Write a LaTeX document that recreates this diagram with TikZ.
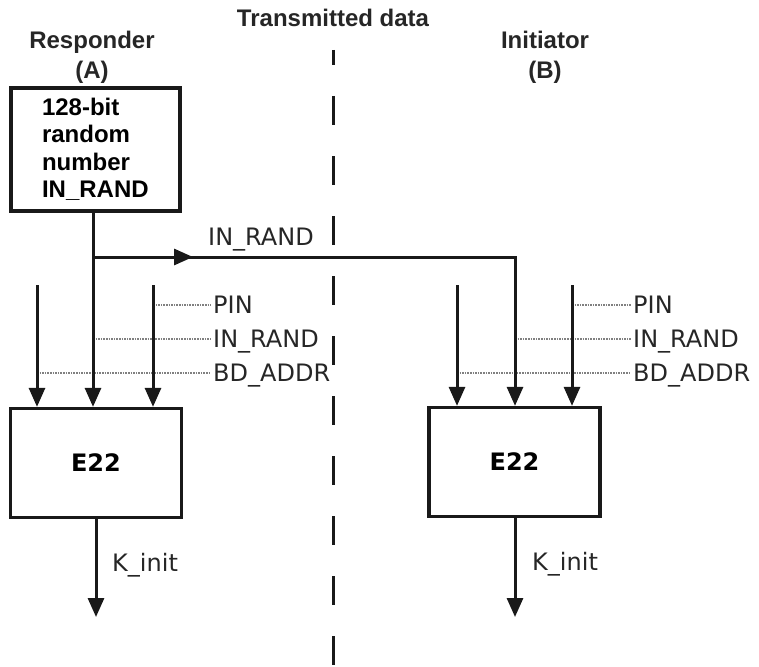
\documentclass[tikz,border=0pt]{standalone}
\usepackage{fontspec}
\setmainfont{Liberation Sans}
\newfontfamily\labelfont{DejaVu Sans}
\usetikzlibrary{arrows.meta,positioning}
\tikzset{
  titlelabel/.style={font=\bfseries\fontsize{24}{30}\selectfont,align=center,text=black!85},
  sourcebox/.style={draw=black!90,line width=3.3pt,minimum width=169pt,minimum height=123pt,
    text width=107pt,inner xsep=31pt,align=left,font=\bfseries\fontsize{24}{27.5}\selectfont},
  cipherbox/.style={draw=black!90,line width=3.3pt,minimum width=171pt,minimum height=109pt,
    font=\labelfont\bfseries\fontsize{24}{28}\selectfont},
  siglabel/.style={font=\labelfont\fontsize{24}{28}\selectfont,anchor=west,inner sep=2pt,
    text height=17.5pt,text depth=0pt,text=black!85},
  flowline/.style={line width=3pt,draw=black!90},
  flowarrow/.style={flowline,-{Triangle[length=19pt,width=16pt]}},
  hintline/.style={line width=1.6pt,draw=black!50,dash pattern=on 1.5pt off 1.1pt},
  borderline/.style={line width=3pt,draw=black!90,dash pattern=on 29pt off 31pt,dash phase=14pt}
}

\begin{document}
\begin{tikzpicture}[x=1pt,y=-1pt]
  \useasboundingbox (0,0) rectangle (759,666);
  % headings
  \node[titlelabel] (resp) at (92,57) {Responder\\(A)};
  \node[titlelabel] (trans) at (333,18) {Transmitted data};
  \node[titlelabel] (init) at (545,57) {Initiator\\(B)};
  \coordinate (bordertop) at (333,50);
  \coordinate (borderbot) at (333,666);
  \draw[borderline] (bordertop) -- (borderbot);

  % responder side
  \node[sourcebox] (randbox) at (95.5,149.5) {128-bit\\random\\number\\IN\_RAND};
  \node[cipherbox] (e22A) at (96,463) {E22};
  \coordinate (split) at (93,257);
  \coordinate (bend) at (515,257);
  \coordinate (midtip) at (193,257);
  \coordinate (inA1) at (37,285);
  \coordinate (inA3) at (153,285);
  \coordinate (outA) at (96,617);
  \node[siglabel] (sent) at (206,237) {IN\_RAND};
  \node[siglabel] (pinA) at (211,305) {PIN};
  \node[siglabel] (randA) at (211,339) {IN\_RAND};
  \node[siglabel] (addrA) at (211,373) {BD\_ADDR};
  \draw[hintline] (inA3 |- pinA) -- (pinA.west);
  \draw[hintline] (split |- randA) -- (randA.west);
  \draw[hintline] (inA1 |- addrA) -- (addrA.west);
  \draw[flowarrow] (inA1) -- (e22A.north -| inA1);
  \draw[flowarrow] (inA3) -- (e22A.north -| inA3);
  \draw[flowarrow] (randbox.south -| split) -- (e22A.north -| split);
  \draw[flowarrow] (split) -- (midtip);
  \draw[flowarrow] (e22A.south) -- (outA);
  \node[siglabel] (keyA) at (110,563) {K\_init};

  % initiator side
  \node[cipherbox] (e22B) at (514.5,462) {E22};
  \coordinate (inB1) at (457,285);
  \coordinate (inB3) at (572,285);
  \coordinate (outB) at (515,617);
  \node[siglabel] (pinB) at (631,305) {PIN};
  \node[siglabel] (randB) at (631,339) {IN\_RAND};
  \node[siglabel] (addrB) at (631,373) {BD\_ADDR};
  \draw[hintline] (inB3 |- pinB) -- (pinB.west);
  \draw[hintline] (bend |- randB) -- (randB.west);
  \draw[hintline] (inB1 |- addrB) -- (addrB.west);
  \draw[flowarrow] (split) -- (bend) -- (e22B.north -| bend);
  \draw[flowarrow] (inB1) -- (e22B.north -| inB1);
  \draw[flowarrow] (inB3) -- (e22B.north -| inB3);
  \draw[flowarrow] (e22B.south -| outB) -- (outB);
  \node[siglabel] (keyB) at (530,562) {K\_init};
\end{tikzpicture}
\end{document}
